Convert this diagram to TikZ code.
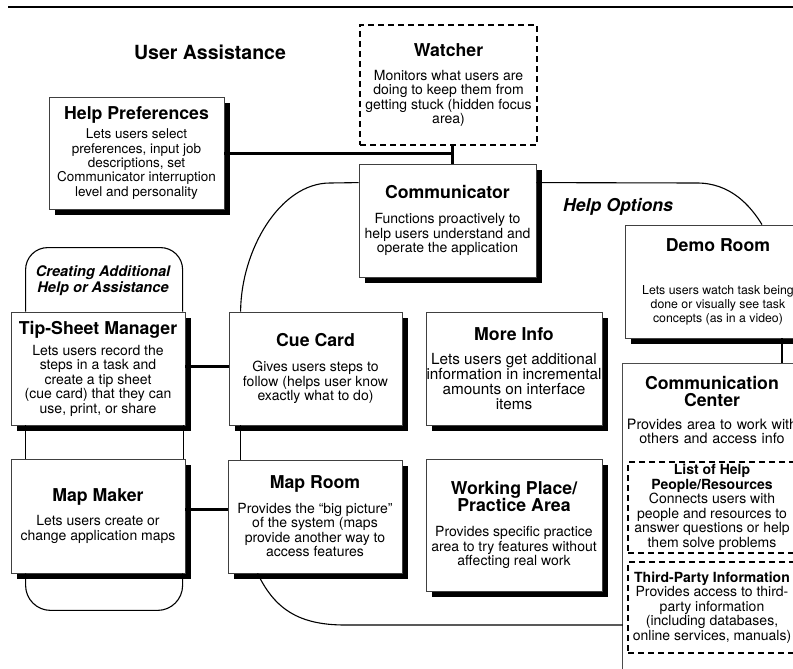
\documentclass[tikz,border=0pt]{standalone}
\usepackage{fontspec}
\setmainfont{TeX Gyre Heros}
\usetikzlibrary{shadows}

% heading line inside a box
\newcommand\bhead[1]{{\fontsize{17.7}{17.7}\selectfont\bfseries #1}}

\tikzset{
  card/.style={rectangle, draw=black!75, line width=0.8pt, fill=white,
    align=center, inner sep=0pt,
    drop shadow={fill=black, opacity=1, shadow xshift=6pt, shadow yshift=-6pt},
    font=\fontsize{14}{14.5}\selectfont},
  dashbox/.style={rectangle, draw=black, line width=1.6pt,
    dash pattern=on 6pt off 4pt, fill=white, align=center, inner sep=0pt,
    font=\fontsize{14}{14.5}\selectfont},
  link/.style={line width=3pt},
  region/.style={line width=1.1pt},
  ccframe/.style={draw=black!70, line width=0.9pt},
}

\begin{document}
\begin{tikzpicture}[x=1pt, y=-1pt]
\useasboundingbox (0,0) rectangle (793,669);
\draw[line width=2.5pt] (8,7) -- (800,7);

\node[font=\fontsize{19.5}{20}\selectfont\bfseries] (title) at (210,52) {User Assistance};

% top row
\node[dashbox, minimum width=177pt, minimum height=120pt] (watcher) at (448.5,85)
  {\bhead{Watcher}\\[9.5pt]Monitors what users are\\doing to keep them from\\getting stuck (hidden focus\\area)};
\node[card, minimum width=175pt, minimum height=112pt, font=\fontsize{13.5}{14.4}\selectfont] (helppref) at (136.5,153)
  {\bhead{Help Preferences}\\[4.5pt]Lets users select\\preferences, input job\\descriptions, set\\Communicator interruption\\level and personality};
\node[card, minimum width=177pt, minimum height=113pt] (comm) at (447.5,220.5)
  {\bhead{Communicator}\\[10.5pt]Functions proactively to\\help users understand and\\operate the application};

% help options
\node[card, minimum width=186pt, minimum height=113pt, font=\fontsize{12.3}{14}\selectfont] (demo) at (718,281.5)
  {\bhead{Demo Room}\\[29pt]Lets users watch task being\\done or visually see task\\concepts (as in a video)};
\node[card, minimum width=173pt, minimum height=113pt] (cuecard) at (315.5,368.5)
  {\bhead{Cue Card}\\[10.5pt]Gives users steps to\\follow (helps user know\\exactly what to do)};
\node[card, minimum width=176pt, minimum height=113pt, font=\fontsize{15.3}{15}\selectfont] (moreinfo) at (514,368.5)
  {\bhead{More Info}\\[9pt]Lets users get additional\\information in incremental\\amounts on interface\\items};
\node[card, minimum width=174pt, minimum height=113pt] (maproom) at (315,516.5)
  {\bhead{Map Room}\\[10pt]Provides the “big picture”\\of the system (maps\\provide another way to\\access features};
\node[card, minimum width=176pt, minimum height=132pt] (practice) at (514,525)
  {\bhead{Working Place/}\\[-1pt]\bhead{Practice Area}\\[10.5pt]Provides specific practice\\area to try features without\\affecting real work};

% creating help
\node[card, minimum width=174pt, minimum height=113pt] (tipsheet) at (98,368.5)
  {\bhead{Tip-Sheet Manager}\\[6.5pt]Lets users record the\\steps in a task and\\create a tip sheet\\(cue card) that they can\\use, print, or share};
\node[card, minimum width=174pt, minimum height=114pt] (mapmaker) at (98,516)
  {\bhead{Map Maker}\\[10pt]Lets users create or\\change application maps};

% communication center
\node[align=center, anchor=north, text width=178pt, inner xsep=0pt, inner ysep=13pt,
  font=\fontsize{14.3}{14.5}\selectfont] (commcenter) at (712,363)
  {\bhead{Communication}\\[2.5pt]\bhead{Center}\\[8.5pt]Provides area to work with\\others and access info};
\draw[ccframe] ([yshift=-330pt]commcenter.north west) -- (commcenter.north west) -- ([xshift=20pt]commcenter.north east);
\node[dashbox, minimum width=168pt, minimum height=91pt] (peoplelist) at (712,507.5)
  {\textbf{List of Help}\\\textbf{People/Resources}\\Connects users with\\people and resources to\\answer questions or help\\them solve problems};
\node[dashbox, minimum width=168pt, minimum height=91pt] (thirdparty) at (712,607.5)
  {\textbf{Third-Party Information}\\Provides access to third-\\party information\\(including databases,\\online services, manuals)};

% labels
\node[font=\fontsize{17.7}{18}\selectfont\bfseries\itshape] (helpopt) at (618,207) {Help Options};
\node[font=\fontsize{14.6}{16}\selectfont\bfseries\itshape, align=center] (creating) at (103,281)
  {Creating Additional\\Help or Assistance};

% thick connectors
\coordinate (joint) at ([xshift=3.5pt]watcher.south);
\draw[link] (helppref.east) -| (joint |- comm.north);
\draw[link] (joint) -- (joint |- helppref.east);
\draw[link] ([yshift=2.5pt]tipsheet.east) -- ([yshift=2.5pt]cuecard.west);
\draw[link] ([yshift=7pt]mapmaker.east) -- ([yshift=7pt]mapmaker.east -| maproom.west);
\draw[line width=1.4pt] ([xshift=64pt]demo.south) -- ([xshift=64pt]demo.south |- commcenter.north);

% help options outline
\draw[region] ([yshift=-19pt]comm.north west) -- (330,183)
  .. controls (280,183) and (241,250) .. ([xshift=12pt]cuecard.north west);
\draw[region] ([yshift=-19pt]comm.north east) -- (697,183)
  .. controls (730,183) and (750,205) .. ([xshift=44pt]demo.north);
\draw[region] ([xshift=12pt]cuecard.south west) -- ([xshift=13pt]maproom.north west);
\draw[region] ([xshift=30pt]maproom.south west) .. controls (275,610) and (300,625) .. (345,625)
  -- (commcenter.north west |- 0,625);

% creating help outline
\draw[region, rounded corners=22pt] ([xshift=15pt]tipsheet.north west) -- ++(0,-64) -- ++(157,0) -- ++(0,64);
\draw[region] ([xshift=15pt]tipsheet.south west) -- ([xshift=15pt]mapmaker.north west);
\draw[region] ([xshift=-2pt]tipsheet.south east) -- ([xshift=-2pt]mapmaker.north east);
\draw[region, rounded corners=25pt] ([xshift=15pt]mapmaker.south west) -- ++(0,37) -- ++(157,0) -- ++(0,-37);
\end{tikzpicture}
\end{document}
